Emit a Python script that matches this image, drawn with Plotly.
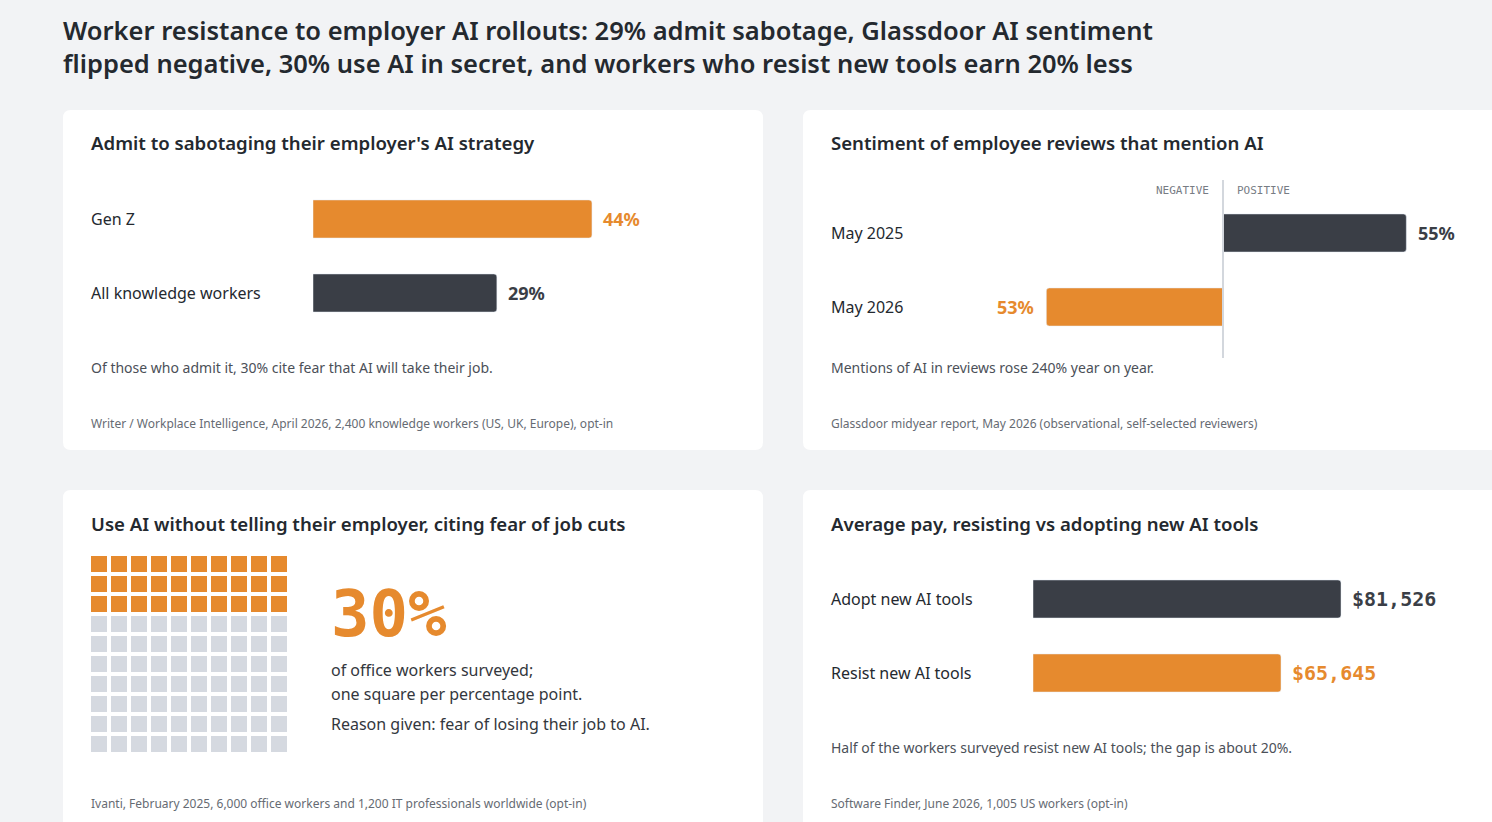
import plotly.graph_objects as go

W, H = 1492, 822

# ---- data ----
title_lines = [
    "Worker resistance to employer AI rollouts: 29% admit sabotage, Glassdoor AI sentiment",
    "flipped negative, 30% use AI in secret, and workers who resist new tools earn 20% less",
]

sabotage_groups = ["Gen Z", "All knowledge workers"]
sabotage_pct = [44, 29]

sentiment_months = ["May 2025", "May 2026"]
sentiment_side = ["positive", "negative"]
sentiment_pct = [55, 53]

secret_pct = 30

pay_groups = ["Adopt new AI tools", "Resist new AI tools"]
pay_usd = [81526, 65645]

# ---- styles ----
BG = "#f2f3f5"
ORANGE = "#e68a2e"
DARK = "#3a3e46"
GREY = "#d5d9e0"
INK = "#24292f"
NOTE = "#4b5058"
SRC = "#666b73"
SANS = "Noto Sans"
MONO = "DejaVu Sans Mono"


def px(x):
    return x / W


def py(y):
    return 1 - y / H


def card(x0, y0, x1, y1, r=8):
    # rounded rectangle in paper coords
    rx, ry = r / W, r / H
    a, b, c, d = px(x0), py(y0), px(x1), py(y1)
    path = (f"M{a+rx},{b} L{c-rx},{b} Q{c},{b} {c},{b-ry} L{c},{d+ry} Q{c},{d} {c-rx},{d} "
            f"L{a+rx},{d} Q{a},{d} {a},{d+ry} L{a},{b-ry} Q{a},{b} {a+rx},{b} Z")
    return dict(type="path", path=path, xref="paper", yref="paper", layer="below",
                fillcolor="white", line=dict(width=0))


annos = []


def txt(x, y, text, size, color=INK, family=SANS, weight=400, xanchor="left",
        xref="paper", yref="paper", xshift=None):
    if xshift is None:
        xshift = -2 if xanchor == "left" else 2
    annos.append(dict(x=x, y=y, xref=xref, yref=yref, text=text, showarrow=False,
                      xanchor=xanchor, yanchor="middle", xshift=xshift, align="left",
                      font=dict(size=size, color=color, family=family, weight=weight)))


fig = go.Figure()

# card 1: sabotage
bar_cols1 = [ORANGE, DARK]
fig.add_trace(go.Bar(x=sabotage_pct, y=sabotage_groups, orientation="h",
                     marker=dict(color=bar_cols1, cornerradius=3),
                     xaxis="x", yaxis="y", hoverinfo="skip"))
for g, v, c in zip(sabotage_groups, sabotage_pct, bar_cols1):
    txt(px(91), g, g, 16, INK, yref="y")
    txt(v, g, f"{v}%", 18, c, weight=700, xref="x", yref="y", xshift=9)

# card 2: sentiment
sent_vals = [v if s == "positive" else -v for v, s in zip(sentiment_pct, sentiment_side)]
bar_cols2 = [DARK if s == "positive" else ORANGE for s in sentiment_side]
fig.add_trace(go.Bar(x=sent_vals, y=sentiment_months, orientation="h",
                     marker=dict(color=bar_cols2, cornerradius=3),
                     xaxis="x2", yaxis="y2", hoverinfo="skip"))
for m, v, c in zip(sentiment_months, sent_vals, bar_cols2):
    txt(px(831), m, m, 16, INK, yref="y2")
    txt(v, m, f"{abs(v)}%", 18, c, weight=700, xref="x2", yref="y2",
        xanchor="left" if v > 0 else "right", xshift=10 if v > 0 else -10)
txt(0, py(190), "NEGATIVE", 11, "#777c84", MONO, xanchor="right", xref="x2", xshift=-12)
txt(0, py(190), "POSITIVE", 11, "#777c84", MONO, xanchor="left", xref="x2", xshift=12)

# card 4: pay
bar_cols4 = [DARK, ORANGE]
fig.add_trace(go.Bar(x=pay_usd, y=pay_groups, orientation="h",
                     marker=dict(color=bar_cols4, cornerradius=3),
                     xaxis="x3", yaxis="y3", hoverinfo="skip"))
for g, v, c in zip(pay_groups, pay_usd, bar_cols4):
    txt(px(831), g, g, 16, INK, yref="y3")
    txt(v, g, f"${v:,}", 20, c, MONO, weight=700, xref="x3", yref="y3", xshift=9)

# card 3: waffle, one square per percentage point
cells = list(range(100))
on = [i for i in cells if i < secret_pct]
off = [i for i in cells if i >= secret_pct]
for idx, col in ((on, ORANGE), (off, GREY)):
    fig.add_trace(go.Scatter(x=[i % 10 for i in idx], y=[i // 10 for i in idx], mode="markers",
                             marker=dict(symbol="square", size=16, color=col, line=dict(width=0)),
                             xaxis="x4", yaxis="y4", hoverinfo="skip"))
txt(px(331), py(614), f"{secret_pct}%", 64, ORANGE, MONO, weight=700)
txt(px(331), py(670), "of office workers surveyed;", 16, "#33373d")
txt(px(331), py(694), "one square per percentage point.", 16, "#33373d")
txt(px(331), py(724), "Reason given: fear of losing their job to AI.", 16, "#33373d")

# titles, notes, sources
txt(px(63), py(46.5), "<br>".join(title_lines), 25.5, INK, weight=600)
txt(px(91), py(143), "Admit to sabotaging their employer's AI strategy", 18.6, INK, weight=600)
txt(px(831), py(143), "Sentiment of employee reviews that mention AI", 18.6, INK, weight=600)
txt(px(91), py(523), "Use AI without telling their employer, citing fear of job cuts", 18.6, INK, weight=600)
txt(px(831), py(523), "Average pay, resisting vs adopting new AI tools", 18.6, INK, weight=600)

txt(px(91), py(367), "Of those who admit it, 30% cite fear that AI will take their job.", 14, NOTE)
txt(px(831), py(367), "Mentions of AI in reviews rose 240% year on year.", 14, NOTE)
txt(px(831), py(747), "Half of the workers surveyed resist new AI tools; the gap is about 20%.", 14, NOTE)

txt(px(91), py(423), "Writer / Workplace Intelligence, April 2026, 2,400 knowledge workers (US, UK, Europe), opt-in", 12, SRC)
txt(px(831), py(423), "Glassdoor midyear report, May 2026 (observational, self-selected reviewers)", 12, SRC)
txt(px(91), py(803), "Ivanti, February 2025, 6,000 office workers and 1,200 IT professionals worldwide (opt-in)", 12, SRC)
txt(px(831), py(803), "Software Finder, June 2026, 1,005 US workers (opt-in)", 12, SRC)

shapes = [
    card(63, 110, 763, 450),
    card(803, 110, 1503, 450),
    card(63, 490, 763, 830),
    card(803, 490, 1503, 830),
    dict(type="line", xref="x2", yref="paper", x0=0, x1=0, y0=py(180), y1=py(358),
         line=dict(color="#d3d7dd", width=2)),
]

hid = dict(visible=False, fixedrange=True)
fig.update_layout(
    width=W, height=H, margin=dict(l=0, r=0, t=0, b=0),
    paper_bgcolor=BG, plot_bgcolor="rgba(0,0,0,0)",
    showlegend=False, bargap=0.486,
    font=dict(family=SANS, color=INK),
    xaxis=dict(domain=[px(313), px(947)], range=[0, 100], anchor="y", **hid),
    yaxis=dict(domain=[py(330), py(182)], autorange="reversed", anchor="x", **hid),
    xaxis2=dict(domain=[px(1023), px(1423)], range=[-60, 60], anchor="y2", **hid),
    yaxis2=dict(domain=[py(344), py(196)], autorange="reversed", anchor="x2", **hid),
    xaxis3=dict(domain=[px(1033), px(1033 + 377.8)], range=[0, 100000], anchor="y3", **hid),
    yaxis3=dict(domain=[py(710), py(562)], autorange="reversed", anchor="x3", **hid),
    xaxis4=dict(domain=[px(89), px(289)], range=[-0.5, 9.5], anchor="y4", **hid),
    yaxis4=dict(domain=[py(754), py(554)], range=[9.5, -0.5], anchor="x4", **hid),
    shapes=shapes, annotations=annos,
)

fig.write_html("out.html", config=dict(displayModeBar=False),
               post_script="document.body.style.margin='0';")
